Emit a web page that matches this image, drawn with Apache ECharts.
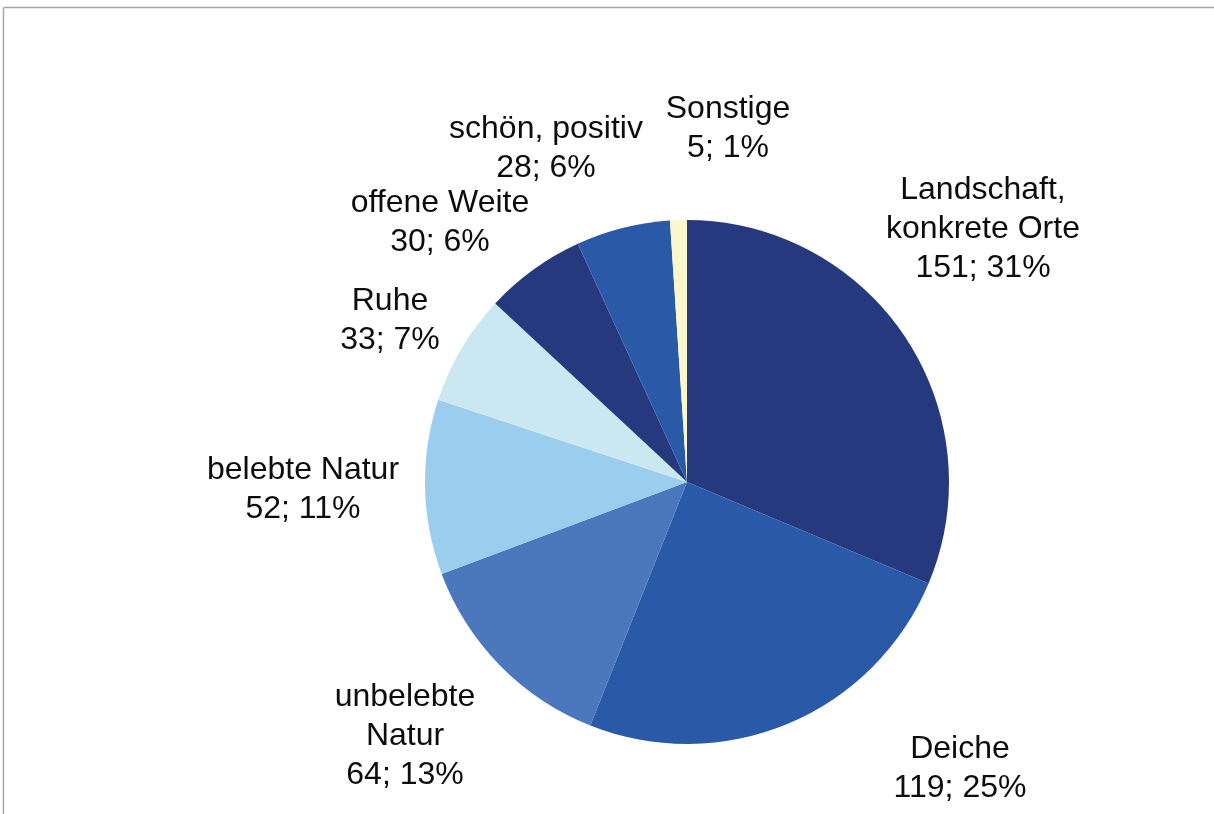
<!DOCTYPE html>
<html>
<head>
<meta charset="utf-8">
<script src="https://cdn.jsdelivr.net/npm/echarts@6/dist/echarts.min.js"></script>
<style>
  html, body { margin: 0; padding: 0; background: #ffffff; }
  #chart { width: 1214px; height: 814px; }
</style>
</head>
<body>
<div id="chart"></div>
<script>
// Categories of answers and their counts
const categories = [
  'Landschaft,\nkonkrete Orte',
  'Deiche',
  'unbelebte\nNatur',
  'belebte Natur',
  'Ruhe',
  'offene Weite',
  'schön, positiv',
  'Sonstige'
];
const counts = [151, 119, 64, 52, 33, 30, 28, 5];
const sliceColors = ['#26397f', '#2a59a8', '#4b77bd', '#9acdee', '#cbe8f2', '#26397f', '#2a59a8', '#fbf7cd'];

// Where each label block is centred on the page
const labelCentres = [
  [983, 229], [960, 769], [405, 736], [303, 490],
  [390, 321], [440, 223], [546, 149], [728, 129]
];

const chart = echarts.init(document.getElementById('chart'), null, { renderer: 'canvas' });

chart.setOption({
  backgroundColor: '#ffffff',
  animation: false,
  graphic: [
    { type: 'line', shape: { x1: 3.5, y1: 7.5, x2: 1214, y2: 7.5 }, style: { stroke: '#a9a7a3', lineWidth: 1.5 } },
    { type: 'line', shape: { x1: 3.5, y1: 7.5, x2: 3.5, y2: 814 }, style: { stroke: '#a9a7a3', lineWidth: 1.5 } }
  ],
  series: [{
    type: 'pie',
    center: [687, 482],
    radius: 262,
    startAngle: 90,
    clockwise: true,
    avoidLabelOverlap: false,
    itemStyle: { borderWidth: 0 },
    emphasis: { disabled: true },
    data: categories.map((name, i) => ({
      name: name,
      value: counts[i],
      itemStyle: { color: sliceColors[i] }
    })),
    label: {
      show: true,
      position: 'outside',
      formatter: p => p.name + '\n' + p.value + '; ' + Math.round(p.percent) + '%',
      fontFamily: '"Liberation Sans", Arial, sans-serif',
      fontSize: 32,
      lineHeight: 39,
      color: '#0d0d0d',
      align: 'center'
    },
    labelLine: { show: false },
    labelLayout: p => ({
      x: labelCentres[p.dataIndex][0],
      y: labelCentres[p.dataIndex][1],
      align: 'center',
      verticalAlign: 'middle'
    })
  }]
});
</script>
</body>
</html>
